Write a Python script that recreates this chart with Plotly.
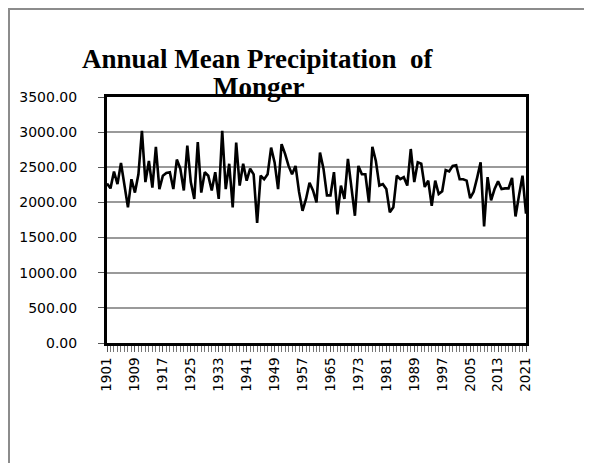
import plotly.graph_objects as go

years = list(range(1901, 2022))
precip = [
    2270, 2200, 2440, 2260, 2560, 2240, 1930, 2330, 2140, 2400,
    3020, 2290, 2590, 2210, 2790, 2190, 2380, 2420, 2430, 2190,
    2610, 2480, 2170, 2810, 2290, 2050, 2860, 2140, 2430, 2380,
    2170, 2430, 2050, 3020, 2190, 2550, 1930, 2850, 2240, 2550,
    2310, 2480, 2400, 1710, 2380, 2330, 2400, 2780, 2570, 2190,
    2830, 2690, 2520, 2400, 2520, 2150, 1880, 2050, 2280, 2170,
    2000, 2710, 2480, 2100, 2100, 2430, 1830, 2240, 2050, 2620,
    2240, 1810, 2520, 2400, 2400, 2000, 2790, 2590, 2240, 2260,
    2190, 1860, 1930, 2380, 2330, 2360, 2240, 2760, 2290, 2570,
    2550, 2220, 2310, 1950, 2310, 2120, 2160, 2460, 2440, 2520,
    2530, 2330, 2330, 2310, 2060, 2150, 2350, 2570, 1660, 2360,
    2030, 2190, 2300, 2190, 2200, 2200, 2350, 1800, 2100, 2380,
    1840,
]
y_ticks = [0, 500, 1000, 1500, 2000, 2500, 3000, 3500]
y_labels = [f"{v:.2f}" for v in y_ticks]
x_ticks = list(range(1901, 2022, 8))

# page has an 8px body margin, so the figure is a bit smaller than the window
W, H = 584, 455
L, R, T, B = 99, 66, 89, 120
pw, ph = W - L - R, H - T - B

def px(x):  # figure pixel x -> paper
    return (x - L) / pw

def py(y):  # figure pixel y -> paper
    return (H - B - y) / ph

fig = go.Figure()
fig.add_trace(go.Scatter(
    x=years, y=precip, mode="lines",
    line=dict(color="black", width=2.6),
    hoverinfo="x+y", showlegend=False,
))

fig.update_xaxes(
    range=[1901, 2021],
    tickmode="array", tickvals=x_ticks, ticktext=[str(v) for v in x_ticks],
    tickangle=-90, tickfont=dict(family="DejaVu Sans", size=13.5, color="black"),
    ticks="outside", ticklen=6, tickcolor="#555",
    minor=dict(dtick=1, tick0=1901, ticks="outside", ticklen=6, tickcolor="#777", showgrid=False),
    showgrid=False, zeroline=False,
    showline=True, linecolor="black", linewidth=3, mirror=True,
    ticklabelstandoff=0,
)
fig.update_yaxes(
    range=[0, 3500],
    tickmode="array", tickvals=y_ticks, ticktext=y_labels,
    tickfont=dict(family="DejaVu Sans", size=14, color="black"),
    ticks="outside", ticklen=6, tickcolor="#555",
    showgrid=True, gridcolor="#9a9a9a", gridwidth=1.5,
    zeroline=False,
    showline=True, linecolor="black", linewidth=3, mirror=True,
    ticklabelstandoff=18,
)

# outer chart-area border
fig.add_shape(type="rect", xref="paper", yref="paper",
              x0=px(1), x1=px(581), y0=py(470), y1=py(1),
              line=dict(color="#8c8c8c", width=2), layer="below")

title_font = dict(family="Liberation Serif", size=27, color="black")
fig.add_annotation(text="<b>Annual Mean Precipitation  of</b>", xref="paper", yref="paper",
                   x=px(250), y=py(51), xanchor="center", yanchor="middle",
                   showarrow=False, font=title_font)
fig.add_annotation(text="<b>Monger</b>", xref="paper", yref="paper",
                   x=px(250), y=py(79), xanchor="center", yanchor="middle",
                   showarrow=False, font=title_font)

fig.update_layout(
    width=W, height=H,
    margin=dict(l=L, r=R, t=T, b=B, pad=0),
    paper_bgcolor="white", plot_bgcolor="white",
    showlegend=False,
)

fig.write_html("out.html")
